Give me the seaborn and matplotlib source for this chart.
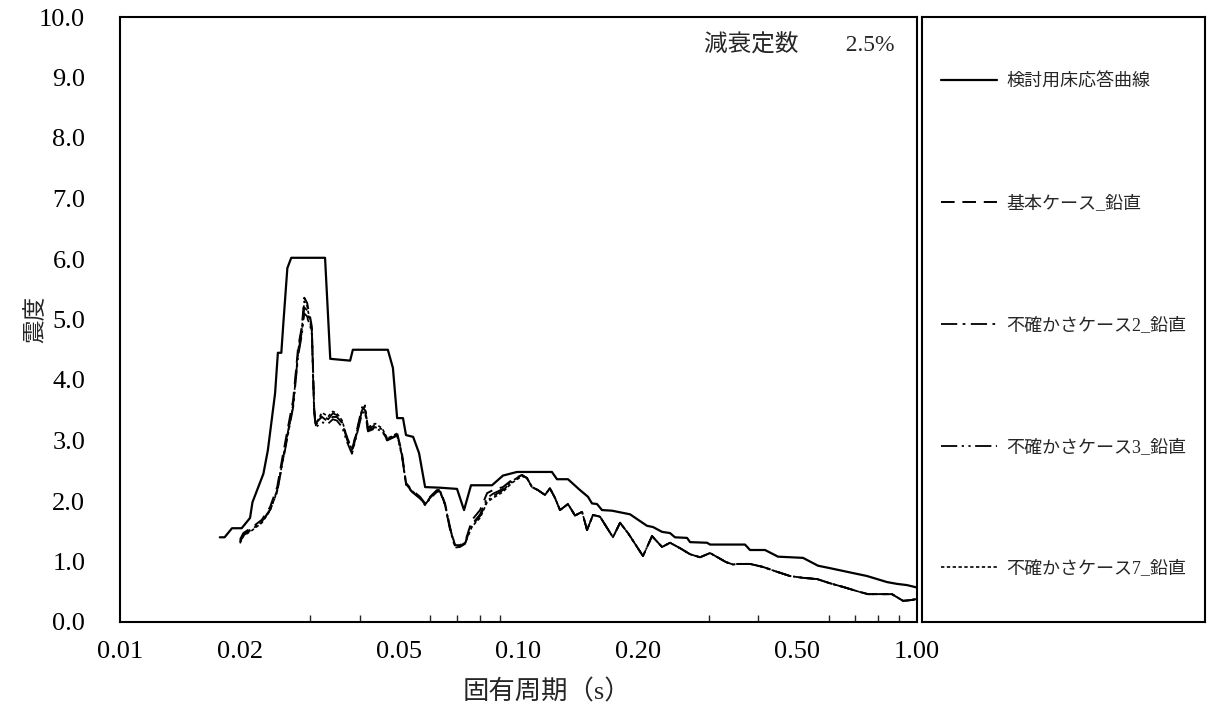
#!/usr/bin/env python3
"""
Floor response spectrum (vertical), damping 2.5%.
"""
import matplotlib
matplotlib.use("Agg")
import matplotlib.pyplot as plt
from matplotlib.lines import Line2D
from matplotlib.ticker import FixedLocator, NullFormatter
import seaborn as sns

# envelope curve (検討用床応答曲線)
env_period = [0.0178, 0.0183, 0.0191, 0.0202, 0.0212, 0.0215, 0.0229, 0.0235, 0.0245, 0.0249,
              0.0254, 0.0257, 0.0263, 0.0269, 0.0327, 0.0337, 0.0378, 0.0384, 0.0470, 0.0484,
              0.0496, 0.0513, 0.0522, 0.0544, 0.0563, 0.0583, 0.0635, 0.0701, 0.0730, 0.0760,
              0.0858, 0.0914, 0.0991, 0.1213, 0.1249, 0.1331, 0.1427, 0.1494, 0.1529, 0.1574,
              0.1620, 0.1716, 0.1905, 0.2101, 0.2175, 0.2292, 0.2400, 0.2470, 0.2648, 0.2695,
              0.2972, 0.3025, 0.3702, 0.3810, 0.4156, 0.4479, 0.5176, 0.5645, 0.6049, 0.6673,
              0.7492, 0.7937, 0.8408, 0.8910, 0.9438, 1.0]
env_value = [1.40, 1.40, 1.55, 1.55, 1.72, 1.98, 2.45, 2.84, 3.78, 4.45,
             4.45, 4.94, 5.85, 6.02, 6.02, 4.35, 4.32, 4.50, 4.50, 4.20,
             3.37, 3.37, 3.09, 3.06, 2.79, 2.23, 2.22, 2.20, 1.85, 2.26,
             2.26, 2.42, 2.48, 2.48, 2.36, 2.36, 2.18, 2.07, 1.96, 1.95,
             1.85, 1.84, 1.78, 1.59, 1.57, 1.49, 1.47, 1.40, 1.39, 1.32,
             1.31, 1.28, 1.28, 1.19, 1.19, 1.08, 1.06, 0.93, 0.89, 0.83,
             0.76, 0.71, 0.66, 0.63, 0.61, 0.57]

# analysis cases share one period grid
case_period = [0.0200, 0.0204, 0.0215, 0.0227, 0.0238, 0.0248, 0.0255, 0.0264, 0.0272, 0.0280,
               0.0286, 0.0290, 0.0295, 0.0296, 0.0300, 0.0303, 0.0307, 0.0310, 0.0321, 0.0333,
               0.0342, 0.0350, 0.0361, 0.0371, 0.0382, 0.0393, 0.0405, 0.0412, 0.0419, 0.0437,
               0.0455, 0.0468, 0.0482, 0.0496, 0.0510, 0.0522, 0.0540, 0.0566, 0.0583, 0.0600,
               0.0624, 0.0635, 0.0654, 0.0673, 0.0693, 0.0713, 0.0734, 0.0765, 0.0801, 0.0834,
               0.0863, 0.0914, 0.0963, 0.1020, 0.1050, 0.1081, 0.1119, 0.1165, 0.1199, 0.1235,
               0.1271, 0.1331, 0.1386, 0.1444, 0.1486, 0.1538, 0.1602, 0.1726, 0.1798, 0.1883,
               0.2053, 0.2163, 0.2292, 0.2400, 0.2543, 0.2695, 0.2855, 0.3025, 0.3317, 0.3454,
               0.3555, 0.3810, 0.4107, 0.4453, 0.4801, 0.5176, 0.5612, 0.6049, 0.6521, 0.7070,
               0.7534, 0.8656, 0.9224, 0.9603, 1.0]

# long-period part where all cases coincide
case_tail = [2.23, 2.18, 2.10, 2.21, 2.05,
             1.85, 1.95, 1.76, 1.82, 1.52, 1.77, 1.74, 1.40, 1.64, 1.47,
             1.09, 1.42, 1.24, 1.31, 1.22, 1.12, 1.07, 1.14, 0.99, 0.95,
             0.96, 0.96, 0.91, 0.83, 0.76, 0.73, 0.71, 0.64, 0.58, 0.51,
             0.46, 0.46, 0.35, 0.36, 0.38]

base_head = [1.36, 1.47, 1.57, 1.69, 1.90, 2.23, 2.68, 3.22, 3.67, 4.55,
             4.88, 5.36, 5.27, 5.21, 5.04, 4.88, 3.55, 3.29, 3.39, 3.31,
             3.39, 3.39, 3.29, 3.06, 2.84, 3.17, 3.55, 3.50, 3.17, 3.22,
             3.17, 3.01, 3.06, 3.12, 2.79, 2.30, 2.18, 2.07, 1.96, 2.07,
             2.18, 2.18, 1.96, 1.57, 1.27, 1.27, 1.32, 1.69, 1.85, 2.13,
             2.18, 2.23, 2.35, 2.43, 2.38]
case2_head = [1.33, 1.45, 1.55, 1.66, 1.86, 2.18, 2.62, 3.15, 3.60, 4.45,
              4.80, 5.20, 5.15, 5.10, 4.95, 4.80, 3.50, 3.25, 3.42, 3.35,
              3.45, 3.42, 3.30, 3.02, 2.80, 3.12, 3.50, 3.58, 3.20, 3.25,
              3.18, 3.03, 3.05, 3.10, 2.75, 2.28, 2.16, 2.05, 1.94, 2.05,
              2.16, 2.17, 1.94, 1.55, 1.25, 1.25, 1.30, 1.62, 1.78, 2.05,
              2.12, 2.20, 2.33, 2.43, 2.38]
case3_head = [1.32, 1.43, 1.54, 1.65, 1.85, 2.15, 2.58, 3.10, 3.55, 4.40,
              4.75, 5.10, 5.05, 5.00, 4.90, 4.75, 3.45, 3.22, 3.30, 3.28,
              3.35, 3.33, 3.22, 2.98, 2.78, 3.10, 3.45, 3.48, 3.15, 3.20,
              3.15, 3.00, 3.04, 3.08, 2.74, 2.27, 2.15, 2.04, 1.93, 2.04,
              2.15, 2.16, 1.93, 1.53, 1.23, 1.24, 1.29, 1.60, 1.75, 2.00,
              2.08, 2.18, 2.32, 2.42, 2.38]
case7_head = [1.30, 1.42, 1.52, 1.64, 1.84, 2.16, 2.60, 3.12, 3.58, 4.50,
              4.85, 5.30, 5.22, 5.15, 5.00, 4.85, 3.52, 3.27, 3.46, 3.40,
              3.48, 3.45, 3.33, 3.05, 2.85, 3.15, 3.52, 3.55, 3.22, 3.28,
              3.20, 3.04, 3.07, 3.12, 2.77, 2.29, 2.17, 2.06, 1.95, 2.06,
              2.17, 2.18, 1.95, 1.56, 1.26, 1.26, 1.31, 1.58, 1.72, 1.98,
              2.05, 2.15, 2.30, 2.41, 2.38]

labels = ["検討用床応答曲線", "基本ケース_鉛直", "不確かさケース2_鉛直",
          "不確かさケース3_鉛直", "不確かさケース7_鉛直"]
x_ticks = [0.01, 0.02, 0.05, 0.10, 0.20, 0.50, 1.00]
x_tick_labels = ["0.01", "0.02", "0.05", "0.10", "0.20", "0.50", "1.00"]

sns.set_theme(style="white")
plt.rcParams["font.family"] = ["Liberation Serif", "Noto Sans CJK JP", "DejaVu Sans"]
plt.rcParams["axes.unicode_minus"] = False

fig = plt.figure(figsize=(12.08, 7.08), dpi=100)
ax = fig.add_axes([120 / 1208, 86 / 708, 797 / 1208, 605 / 708])
ax_leg = fig.add_axes([922 / 1208, 86 / 708, 283 / 1208, 605 / 708])

styles = [
    ("-", 1.6),
    ((0, (7, 4)), 1.4),
    ((0, (9, 3, 1.5, 3)), 1.3),
    ((0, (9, 2.5, 1.2, 2.5, 1.2, 2.5)), 1.3),
    ((0, (2, 1.5)), 1.2),
]
series = [
    (env_period, env_value),
    (case_period, base_head + case_tail),
    (case_period, case2_head + case_tail),
    (case_period, case3_head + case_tail),
    (case_period, case7_head + case_tail),
]

for (xs, ys), (ls, lw) in zip(series, styles):
    sns.lineplot(x=xs, y=ys, ax=ax, color="black", linestyle=ls,
                 linewidth=lw, estimator=None, sort=False)

ax.set_xscale("log")
ax.set_xlim(0.01, 1.0)
ax.set_ylim(0, 10)
ax.xaxis.set_major_locator(FixedLocator(x_ticks))
ax.set_xticklabels(x_tick_labels)
ax.xaxis.set_minor_locator(FixedLocator([0.03, 0.04, 0.06, 0.07, 0.08, 0.09,
                                         0.3, 0.4, 0.6, 0.7, 0.8, 0.9]))
ax.xaxis.set_minor_formatter(NullFormatter())
ax.set_yticks([i * 1.0 for i in range(11)])
ax.set_yticklabels([f"{i:.1f}" for i in range(11)])
ax.tick_params(axis="both", which="major", direction="in", length=6, width=1,
               labelsize=19, colors="black")
ax.tick_params(axis="x", which="minor", direction="in", length=5, width=1,
               bottom=True)
ax.tick_params(axis="y", right=False, pad=25)
ax.tick_params(axis="x", pad=14)

for sp in ax.spines.values():
    sp.set_color("black")
    sp.set_linewidth(1.5)

ax.set_xlabel("固有周期（s）", fontsize=19)
ax.xaxis.set_label_coords(0.536, -0.095)
ax.set_ylabel("震度", fontsize=17)
ax.yaxis.set_label_coords(-0.105, 0.5)
ax.yaxis.label.set_va("center")
ax.text(0.972, 0.972, "減衰定数　　2.5%", transform=ax.transAxes,
        ha="right", va="top", fontsize=17)

# legend box
ax_leg.set_xticks([])
ax_leg.set_yticks([])
for sp in ax_leg.spines.values():
    sp.set_color("black")
    sp.set_linewidth(1.5)
handles = [Line2D([], [], color="black", linestyle=ls, linewidth=lw)
           for ls, lw in styles]
ax_leg.legend(handles, labels, loc="center", bbox_to_anchor=(0.5, 0.49),
              frameon=False, fontsize=13, labelspacing=5.8,
              handlelength=3.1, handletextpad=0.55)

plt.savefig("out.png", dpi=100)
